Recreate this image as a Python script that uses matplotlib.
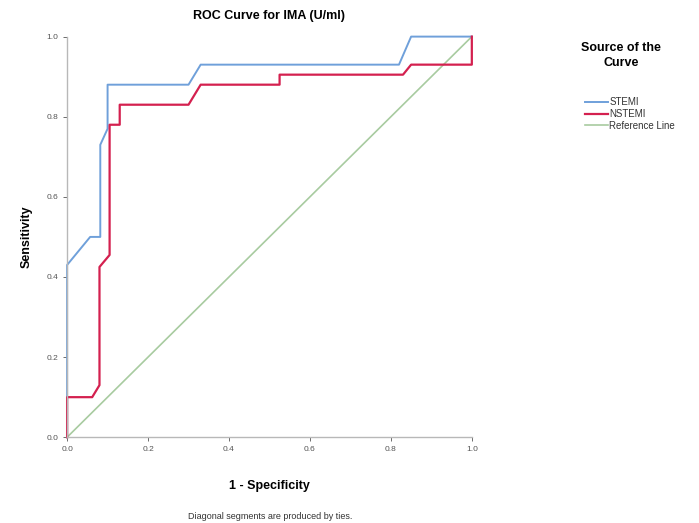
import matplotlib.pyplot as plt
from matplotlib.lines import Line2D

plt.rcParams['font.family'] = ['Liberation Sans', 'DejaVu Sans']

# 1 - specificity / sensitivity
stemi_fpr = [0.0, 0.0, 0.057, 0.082, 0.082, 0.10, 0.10, 0.30, 0.33, 0.82, 0.85, 1.0]
stemi_tpr = [0.0, 0.43, 0.50, 0.50, 0.73, 0.77, 0.88, 0.88, 0.93, 0.93, 1.0, 1.0]
nstemi_fpr = [0.0, 0.0, 0.062, 0.08, 0.08, 0.105, 0.105, 0.13, 0.13, 0.30, 0.33,
              0.525, 0.525, 0.83, 0.85, 1.0, 1.0]
nstemi_tpr = [0.0, 0.10, 0.10, 0.13, 0.425, 0.455, 0.78, 0.78, 0.83, 0.83, 0.88,
              0.88, 0.905, 0.905, 0.93, 0.93, 1.0]
ref_x = [0.0, 1.0]
ref_y = [0.0, 1.0]
ticks = [0.0, 0.2, 0.4, 0.6, 0.8, 1.0]

c_stemi = '#6fa0da'
c_nstemi = '#d4204f'
c_ref = '#a8cba0'

fig = plt.figure(figsize=(6.99, 5.23), dpi=100)
ax = fig.add_axes([0.096, 0.164, 0.579, 0.766])

ax.plot(ref_x, ref_y, color=c_ref, lw=1.2, clip_on=False)
ax.plot(stemi_fpr, stemi_tpr, color=c_stemi, lw=1.4, clip_on=False)
ax.plot(nstemi_fpr, nstemi_tpr, color=c_nstemi, lw=1.6, clip_on=False)

ax.set_xlim(0, 1)
ax.set_ylim(0, 1)
ax.set_xticks(ticks)
ax.set_yticks(ticks)
ax.set_xticklabels(['%.1f' % t for t in ticks])
ax.set_yticklabels(['%.1f' % t for t in ticks])
ax.tick_params(labelsize=6, colors='#555555', length=3, width=0.6)
for s in ['top', 'right']:
    ax.spines[s].set_visible(False)
for s in ['left', 'bottom']:
    ax.spines[s].set_color('#b8b8b8')
    ax.spines[s].set_linewidth(1.0)

ax.set_title('ROC Curve for IMA (U/ml)', fontsize=9, fontweight='bold', pad=13)
ax.set_xlabel('1 - Specificity', fontsize=9, fontweight='bold', labelpad=19)
ax.set_ylabel('Sensitivity', fontsize=9, fontweight='bold', labelpad=10)

fig.text(0.386, 0.008, 'Diagonal segments are produced by ties.', fontsize=6.5,
         ha='center', color='#333333')

# legend title drawn on its own, SPSS leaves a gap below it
fig.text(0.888, 0.92, 'Source of the\nCurve', fontsize=9, fontweight='bold',
         ha='center', va='top', multialignment='center', linespacing=1.3)

handles = [Line2D([], [], color=c_stemi, lw=1.4),
           Line2D([], [], color=c_nstemi, lw=1.6),
           Line2D([], [], color=c_ref, lw=1.2)]
leg = fig.legend(handles, ['STEMI', 'NSTEMI', 'Reference Line'],
                 loc='upper left', bbox_to_anchor=(0.832, 0.822),
                 frameon=False, fontsize=7, handlelength=2.3,
                 handletextpad=0.15, labelspacing=0.2, borderaxespad=0)
for t in leg.get_texts():
    t.set_color('#333333')

fig.savefig('out.png', dpi=100)
